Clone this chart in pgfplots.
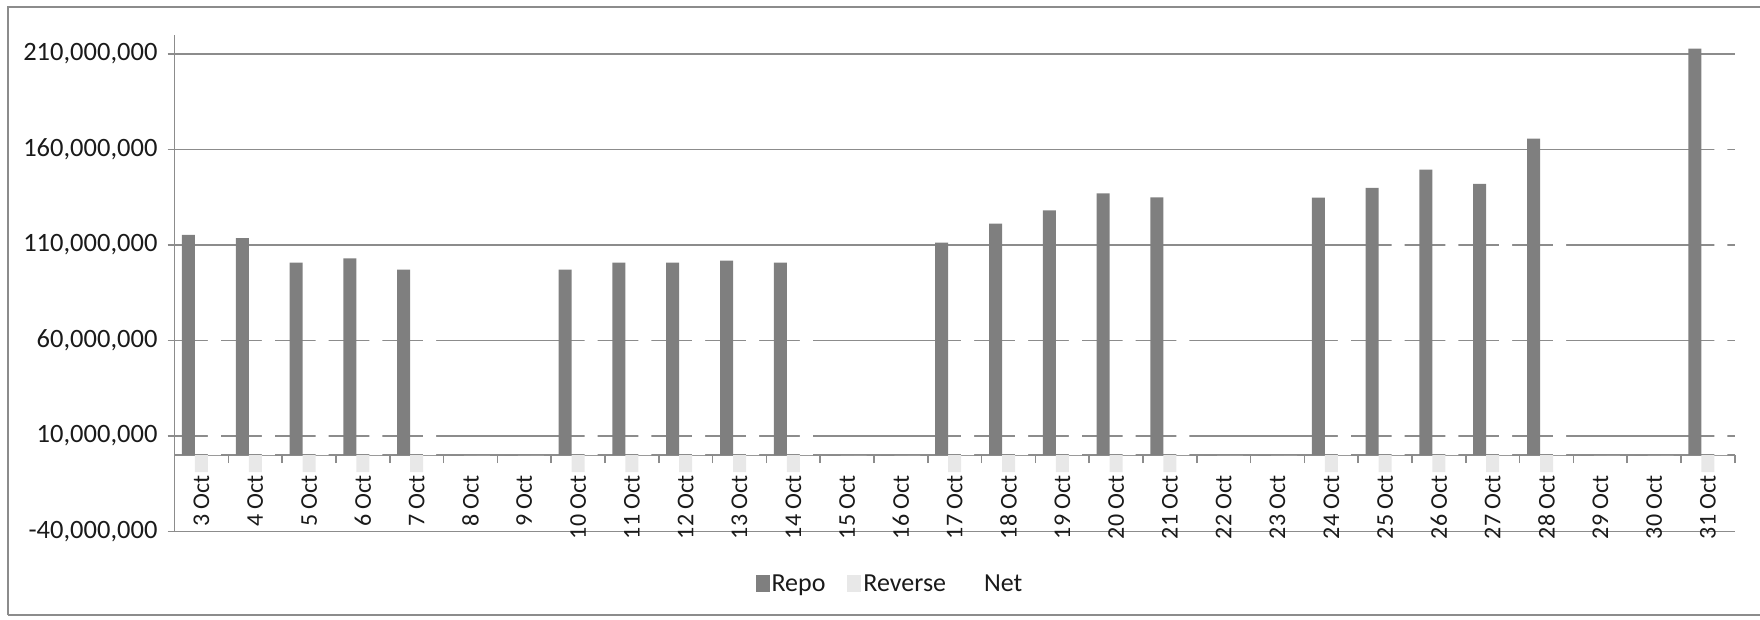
\documentclass[border=0pt]{standalone}
\usepackage{fontspec}
\setmainfont{Carlito}
\usepackage{pgfplots}
\usepackage{pgfplotstable}
\pgfplotsset{compat=1.18}
\definecolor{repo}{HTML}{7F7F7F}
\definecolor{rev}{HTML}{E8E8E8}
\definecolor{gridc}{HTML}{8C8C8C}
\definecolor{txt}{HTML}{1A1A1A}
\pgfplotstableread{
x repo rev net
0 115.3 -9 86
1 113.5 -9 85
2 100.7 -9 72
3 102.9 -9 74
4 97.0 -9 68
5 0 0 0
6 0 0 0
7 97.0 -9 68
8 100.7 -9 72
9 100.7 -9 72
10 101.8 -9 73
11 100.7 -9 72
12 0 0 0
13 0 0 0
14 111.2 -9 82
15 121.1 -9 92
16 128.1 -9 99
17 137.0 -9 108
18 134.9 -9 106
19 0 0 0
20 0 0 0
21 134.8 -9 106
22 139.9 -9 111
23 149.4 -9 120
24 142.0 -9 113
25 165.7 -9 137
26 0 0 0
27 0 0 0
28 212.7 -9 184
}\data
\begin{document}
\begin{tikzpicture}
\begin{axis}[
  scale only axis, width=1560.2pt, height=496.6pt,
  xmin=-0.5, xmax=28.5, ymin=-40, ymax=220,
  ybar=0pt, bar width=13pt,
  axis x line=middle, axis y line=left,
  axis line style={-, gridc, line width=1.5pt},
  xtick={0,...,28},
  xticklabels={3 Oct,4 Oct,5 Oct,6 Oct,7 Oct,8 Oct,9 Oct,10 Oct,11 Oct,12 Oct,13 Oct,14 Oct,15 Oct,16 Oct,17 Oct,18 Oct,19 Oct,20 Oct,21 Oct,22 Oct,23 Oct,24 Oct,25 Oct,26 Oct,27 Oct,28 Oct,29 Oct,30 Oct,31 Oct},
  every major x tick/.append style={draw opacity=0},
  minor xtick={-0.5,0.5,...,28.5},
  ytick={-40,10,60,110,160,210},
  yticklabels={{-40,000,000},{10,000,000},{60,000,000},{110,000,000},{160,000,000},{210,000,000}},
  tick align=outside, major tick length=7pt, minor tick length=8pt,
  tick style={gridc, line width=1.5pt},
  ymajorgrids, grid style={gridc, line width=1.5pt},
  xticklabel shift=13pt,
  xticklabel style={rotate=90, anchor=east, inner sep=0pt, font=\fontsize{24}{28}\selectfont, text=txt},
  yticklabel style={anchor=east, inner sep=0pt, xshift=-10pt, font=\fontsize{26.5}{31}\selectfont, text=txt},
  legend style={at={(0.4585,-0.106)}, anchor=center, legend columns=-1, draw=none, fill=none,
    font=\fontsize{26}{30}\selectfont, text=txt,
    /tikz/every even column/.append style={column sep=20pt}},
  legend image code/.code={\fill[#1] (0pt,-8pt) rectangle (14pt,9pt);},
]
\coordinate (ll) at (axis cs:-0.5,-40);
\addplot[fill=repo, draw=none] table[x=x,y=repo]{\data};
\addplot[fill=rev, draw=none] table[x=x,y=rev]{\data};
\addplot[fill=white, draw=none] table[x=x,y=net]{\data};
\legend{Repo,Reverse,Net}
\end{axis}
\pgfresetboundingbox
\path[use as bounding box] (ll) ++(-174.6pt,-87.6pt) rectangle ++(1760pt,619pt);
\draw[gridc, line width=1.5pt] (ll) ++(-166.6pt,-83.6pt) -- ++(0pt,608pt) -- ++(1800pt,0pt);
\draw[gridc, line width=1.5pt] (ll) ++(-166.6pt,-83.6pt) -- ++(1800pt,0pt);
\end{tikzpicture}
\end{document}
